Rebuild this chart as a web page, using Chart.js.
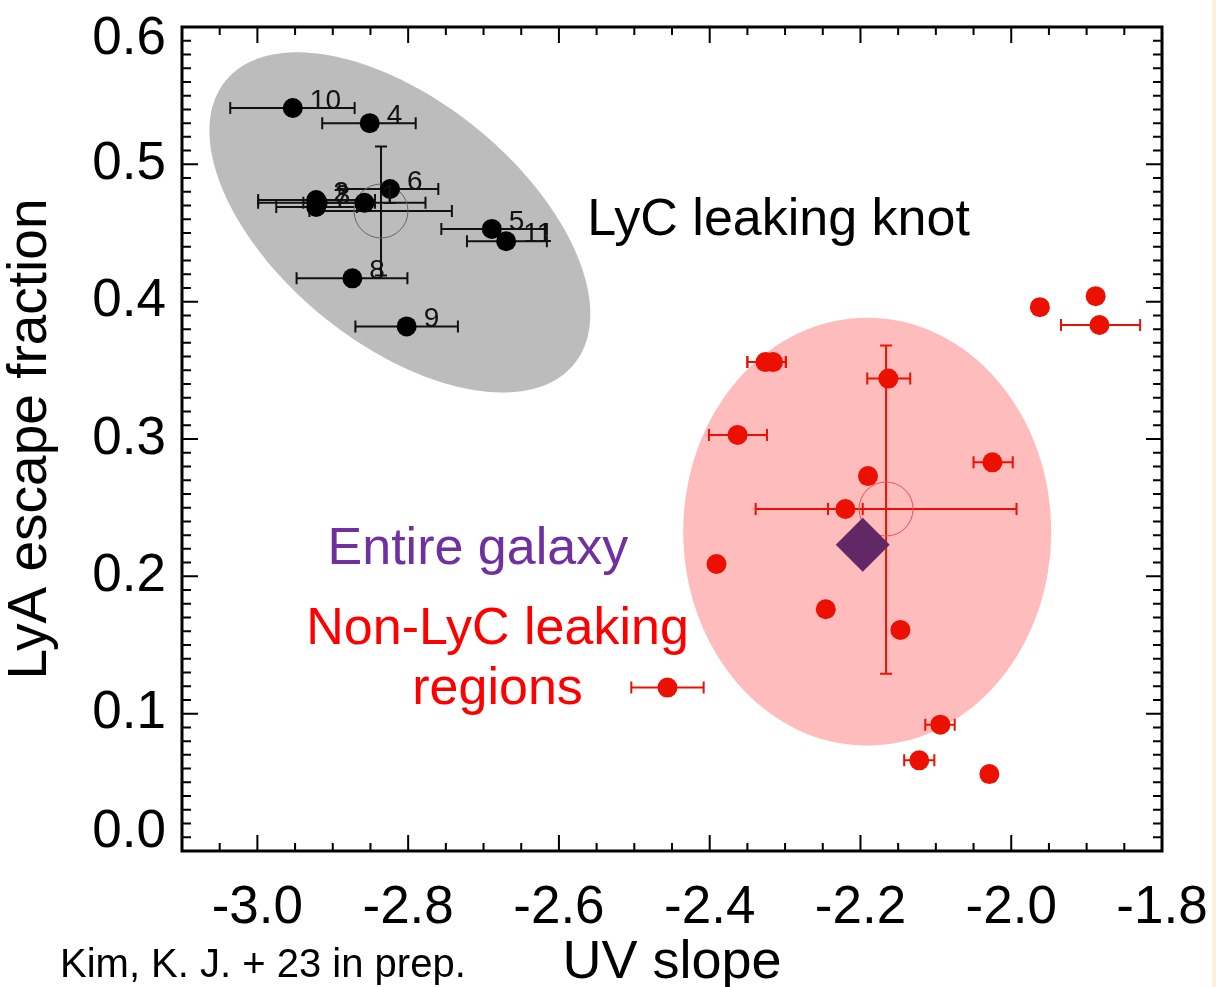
<!DOCTYPE html>
<html>
<head>
<meta charset="utf-8">
<script src="https://cdn.jsdelivr.net/npm/chart.js@4.4.1/dist/chart.umd.min.js"></script>
<style>
  html, body { margin: 0; padding: 0; background: #fff; }
  body { width: 1216px; height: 987px; overflow: hidden; position: relative; }
  #edge { position: absolute; right: 0; top: 0; width: 4px; height: 987px; background: #fbf1de; }
  canvas { display: block; }
</style>
</head>
<body>
<canvas id="c" width="1216" height="987"></canvas>
<div id="edge"></div>
<script>
// ---- LyC leaking knots (numbered) ----
const knotIds    = ['10', '4', '6', '1', '2', '3', '7', '5', '11', '8', '9'];
const knotBeta   = [-2.953, -2.851, -2.824, -2.858, -2.922, -2.920, -2.922, -2.689, -2.670, -2.874, -2.802];
const knotFesc   = [0.541, 0.530, 0.482, 0.472, 0.474, 0.472, 0.469, 0.453, 0.444, 0.417, 0.382];
const knotBetaLo = [-3.036, -2.914, -2.891, -2.939, -2.999, -2.999, -2.975, -2.756, -2.722, -2.948, -2.870];
const knotBetaHi = [-2.871, -2.790, -2.760, -2.777, -2.844, -2.844, -2.868, -2.616, -2.616, -2.801, -2.734];

// knot sample mean with its spread
const knotMean   = [-2.836, 0.466];
const knotMeanX  = [-2.931, -2.742];
const knotMeanY  = [0.419, 0.513];

// ---- Non-LyC leaking regions ----
const regBeta   = [-1.962, -1.888, -1.883, -2.326, -2.316, -2.163, -2.363, -2.025, -2.190, -2.220, -2.391, -2.246, -2.147, -2.456, -2.094, -2.122, -2.029];
const regFesc   = [0.396, 0.404, 0.383, 0.356, 0.356, 0.344, 0.303, 0.283, 0.273, 0.249, 0.209, 0.176, 0.161, 0.119, 0.092, 0.066, 0.056];
const regBetaLo = [null, null, -1.934, -2.350, -2.350, -2.191, -2.401, -2.050, null, -2.243, null, null, null, -2.504, -2.114, -2.142, null];
const regBetaHi = [null, null, -1.829, -2.299, -2.299, -2.134, -2.324, -1.998, null, -2.197, null, null, null, -2.408, -2.075, -2.102, null];

const regMean  = [-2.166, 0.249];
const regMeanX = [-2.339, -1.993];
const regMeanY = [0.129, 0.368];

// ---- Entire galaxy ----
const galaxy = [-2.197, 0.223];

// ---- population envelopes (data units) ----
const knotEnvCenter = [-2.811, 0.4577];
const knotEnvAxisU  = [0.2305, -0.1036];
const knotEnvAxisV  = [0.1034, 0.0679];
const regEnvCenter  = [-2.191, 0.2325];
const regEnvRadii   = [0.2441, 0.1558];

// ---- axes ----
const xTicks = [-3.0, -2.8, -2.6, -2.4, -2.2, -2.0, -1.8];
const yTicks = [0.0, 0.1, 0.2, 0.3, 0.4, 0.5, 0.6];
const xRange = [-3.1, -1.8];
const yRange = [0.0, 0.6];
const xMinorStep = 0.05;
const yMinorStep = 0.01;

const SANS = "'Liberation Sans', Arial, Helvetica, sans-serif";
const RED = '#ec1000';

function hBar(ctx, xs, ys, lo, hi, y, cap) {
  const a = xs.getPixelForValue(lo), b = xs.getPixelForValue(hi), py = ys.getPixelForValue(y);
  ctx.beginPath();
  ctx.moveTo(a, py); ctx.lineTo(b, py);
  ctx.moveTo(a, py - cap); ctx.lineTo(a, py + cap);
  ctx.moveTo(b, py - cap); ctx.lineTo(b, py + cap);
  ctx.stroke();
}
function vBar(ctx, xs, ys, x, lo, hi, cap) {
  const px = xs.getPixelForValue(x), a = ys.getPixelForValue(lo), b = ys.getPixelForValue(hi);
  ctx.beginPath();
  ctx.moveTo(px, a); ctx.lineTo(px, b);
  ctx.moveTo(px - cap, a); ctx.lineTo(px + cap, a);
  ctx.moveTo(px - cap, b); ctx.lineTo(px + cap, b);
  ctx.stroke();
}

const underlay = {
  id: 'underlay',
  beforeDatasetsDraw(chart) {
    const {ctx, scales: {x: xs, y: ys}} = chart;
    ctx.save();
    // grey envelope around the knots
    const cx = xs.getPixelForValue(knotEnvCenter[0]), cy = ys.getPixelForValue(knotEnvCenter[1]);
    const ux = xs.getPixelForValue(knotEnvCenter[0] + knotEnvAxisU[0]) - cx;
    const uy = ys.getPixelForValue(knotEnvCenter[1] + knotEnvAxisU[1]) - cy;
    const vx = xs.getPixelForValue(knotEnvCenter[0] + knotEnvAxisV[0]) - cx;
    const vy = ys.getPixelForValue(knotEnvCenter[1] + knotEnvAxisV[1]) - cy;
    ctx.beginPath();
    for (let k = 0; k <= 180; k++) {
      const t = k / 180 * Math.PI * 2;
      const px = cx + Math.cos(t) * ux + Math.sin(t) * vx;
      const py = cy + Math.cos(t) * uy + Math.sin(t) * vy;
      k ? ctx.lineTo(px, py) : ctx.moveTo(px, py);
    }
    ctx.closePath();
    ctx.fillStyle = '#bcbcbc';
    ctx.fill();

    // pink envelope around the regions
    const rcx = xs.getPixelForValue(regEnvCenter[0]), rcy = ys.getPixelForValue(regEnvCenter[1]);
    const rrx = xs.getPixelForValue(regEnvCenter[0] + regEnvRadii[0]) - rcx;
    const rry = rcy - ys.getPixelForValue(regEnvCenter[1] + regEnvRadii[1]);
    ctx.beginPath();
    ctx.ellipse(rcx, rcy, rrx, rry, 0, 0, Math.PI * 2);
    ctx.fillStyle = '#ffbcbc';
    ctx.fill();

    // knot error bars
    ctx.lineWidth = 2;
    ctx.strokeStyle = '#111';
    knotBeta.forEach((b, i) => hBar(ctx, xs, ys, knotBetaLo[i], knotBetaHi[i], knotFesc[i], 6));
    hBar(ctx, xs, ys, knotMeanX[0], knotMeanX[1], knotMean[1], 6);
    vBar(ctx, xs, ys, knotMean[0], knotMeanY[0], knotMeanY[1], 6);
    ctx.lineWidth = 1;
    ctx.strokeStyle = '#666';
    ctx.beginPath();
    ctx.arc(xs.getPixelForValue(knotMean[0]), ys.getPixelForValue(knotMean[1]), 27, 0, Math.PI * 2);
    ctx.stroke();

    // region error bars
    ctx.lineWidth = 2;
    ctx.strokeStyle = RED;
    regBeta.forEach((b, i) => {
      if (regBetaLo[i] !== null) hBar(ctx, xs, ys, regBetaLo[i], regBetaHi[i], regFesc[i], 6);
    });
    hBar(ctx, xs, ys, regMeanX[0], regMeanX[1], regMean[1], 6);
    vBar(ctx, xs, ys, regMean[0], regMeanY[0], regMeanY[1], 6);
    ctx.lineWidth = 1;
    ctx.strokeStyle = '#f05050';
    ctx.beginPath();
    ctx.arc(xs.getPixelForValue(regMean[0]), ys.getPixelForValue(regMean[1]), 27, 0, Math.PI * 2);
    ctx.stroke();
    ctx.restore();
  }
};

const overlay = {
  id: 'overlay',
  afterDatasetsDraw(chart) {
    const {ctx, chartArea: a, scales: {x: xs, y: ys}} = chart;
    ctx.save();
    // knot numbers
    ctx.font = `28px ${SANS}`;
    ctx.fillStyle = '#111';
    ctx.textBaseline = 'alphabetic';
    ctx.textAlign = 'left';
    knotIds.forEach((id, i) => {
      ctx.fillText(id, xs.getPixelForValue(knotBeta[i]) + 17, ys.getPixelForValue(knotFesc[i]) + 1);
    });

    // annotations
    ctx.font = `52px ${SANS}`;
    ctx.fillStyle = '#000';
    ctx.fillText('LyC leaking knot', xs.getPixelForValue(-2.5623), ys.getPixelForValue(0.4483));
    ctx.fillStyle = '#7030a0';
    ctx.fillText('Entire galaxy', xs.getPixelForValue(-2.9069), ys.getPixelForValue(0.2090));
    ctx.fillStyle = '#ff0000';
    ctx.textAlign = 'center';
    ctx.fillText('Non-LyC leaking', xs.getPixelForValue(-2.6814), ys.getPixelForValue(0.1504));
    ctx.fillText('regions', xs.getPixelForValue(-2.6814), ys.getPixelForValue(0.1070));

    // frame with inward ticks on every side
    ctx.strokeStyle = '#000';
    ctx.lineWidth = 3;
    ctx.strokeRect(a.left, a.top, a.right - a.left, a.bottom - a.top);
    ctx.lineWidth = 2;
    ctx.beginPath();
    const nx = Math.round((xRange[1] - xRange[0]) / xMinorStep);
    for (let k = 0; k <= nx; k++) {
      const v = xRange[0] + k * xMinorStep;
      const major = xTicks.some(t => Math.abs(t - v) < 1e-6);
      const len = major ? 16 : 8;
      const px = xs.getPixelForValue(v);
      ctx.moveTo(px, a.bottom); ctx.lineTo(px, a.bottom - len);
      ctx.moveTo(px, a.top); ctx.lineTo(px, a.top + len);
    }
    const ny = Math.round((yRange[1] - yRange[0]) / yMinorStep);
    for (let k = 0; k <= ny; k++) {
      const v = yRange[0] + k * yMinorStep;
      const major = yTicks.some(t => Math.abs(t - v) < 1e-6);
      const len = major ? 16 : 9;
      const py = ys.getPixelForValue(v);
      ctx.moveTo(a.left, py); ctx.lineTo(a.left + len, py);
      ctx.moveTo(a.right, py); ctx.lineTo(a.right - len, py);
    }
    ctx.stroke();

    // reference note
    ctx.font = `40px ${SANS}`;
    ctx.fillStyle = '#000';
    ctx.textAlign = 'left';
    ctx.fillText('Kim, K. J. + 23 in prep.', 60, 977);
    ctx.restore();
  }
};

// the end labels of the y axis sit inside the frame span
const yTop = yTicks[yTicks.length - 1], yBottom = yTicks[0];
function yLabel(v) {
  const s = v.toFixed(1);
  if (Math.abs(v - yTop) < 1e-9) return ['', s];
  if (Math.abs(v - yBottom) < 1e-9) return [s, ''];
  return s;
}
function yLabelFont(c) {
  const v = c.tick ? c.tick.value : null;
  let lh = 1.2;
  if (v !== null && Math.abs(v - yTop) < 1e-9) lh = 0.45;
  if (v !== null && Math.abs(v - yBottom) < 1e-9) lh = 0.72;
  return { family: SANS, size: 53, lineHeight: lh };
}

new Chart(document.getElementById('c'), {
  type: 'scatter',
  data: {
    datasets: [
      {
        label: 'Entire galaxy',
        data: [{x: galaxy[0], y: galaxy[1]}],
        pointStyle: 'rectRot', pointRadius: 27, pointHoverRadius: 27,
        backgroundColor: '#622866', borderWidth: 0, order: 0
      },
      {
        label: 'LyC leaking knot',
        data: knotBeta.map((b, i) => ({x: b, y: knotFesc[i]})),
        pointRadius: 10, pointHoverRadius: 10,
        backgroundColor: '#000', borderWidth: 0, order: 1
      },
      {
        label: 'Non-LyC leaking regions',
        data: regBeta.map((b, i) => ({x: b, y: regFesc[i]})),
        pointRadius: 10, pointHoverRadius: 10,
        backgroundColor: RED, borderWidth: 0, order: 2
      }
    ]
  },
  options: {
    responsive: false,
    animation: false,
    events: [],
    layout: { padding: { top: 21, right: 54, left: 0, bottom: 0 } },
    plugins: { legend: { display: false }, tooltip: { enabled: false } },
    scales: {
      x: {
        type: 'linear', min: xRange[0], max: xRange[1],
        afterBuildTicks: s => { s.ticks = xTicks.map(v => ({value: v})); },
        afterFit: s => { s.height = 136; s.paddingLeft = 0; s.paddingRight = 0; },
        grid: { display: false, drawTicks: false },
        border: { display: false },
        ticks: {
          autoSkip: false, maxRotation: 0, padding: 26, color: '#000',
          font: { family: SANS, size: 53 },
          callback: v => v.toFixed(1)
        },
        title: {
          display: true, text: 'UV slope', color: '#000', padding: 0,
          font: { family: SANS, size: 54, lineHeight: 0.9 }
        }
      },
      y: {
        type: 'linear', min: yRange[0], max: yRange[1],
        afterBuildTicks: s => { s.ticks = yTicks.map(v => ({value: v})); },
        afterFit: s => { s.width = 182; s.paddingTop = 0; s.paddingBottom = 0; },
        grid: { display: false, drawTicks: false },
        border: { display: false },
        ticks: {
          autoSkip: false, padding: 16, color: '#000',
          font: yLabelFont,
          callback: yLabel
        },
        title: {
          display: true, text: 'LyA escape fraction', color: '#000',
          padding: { top: 6, bottom: 0 },
          font: { family: SANS, size: 55, lineHeight: 0.9 }
        }
      }
    }
  },
  plugins: [underlay, overlay]
});
</script>
</body>
</html>
